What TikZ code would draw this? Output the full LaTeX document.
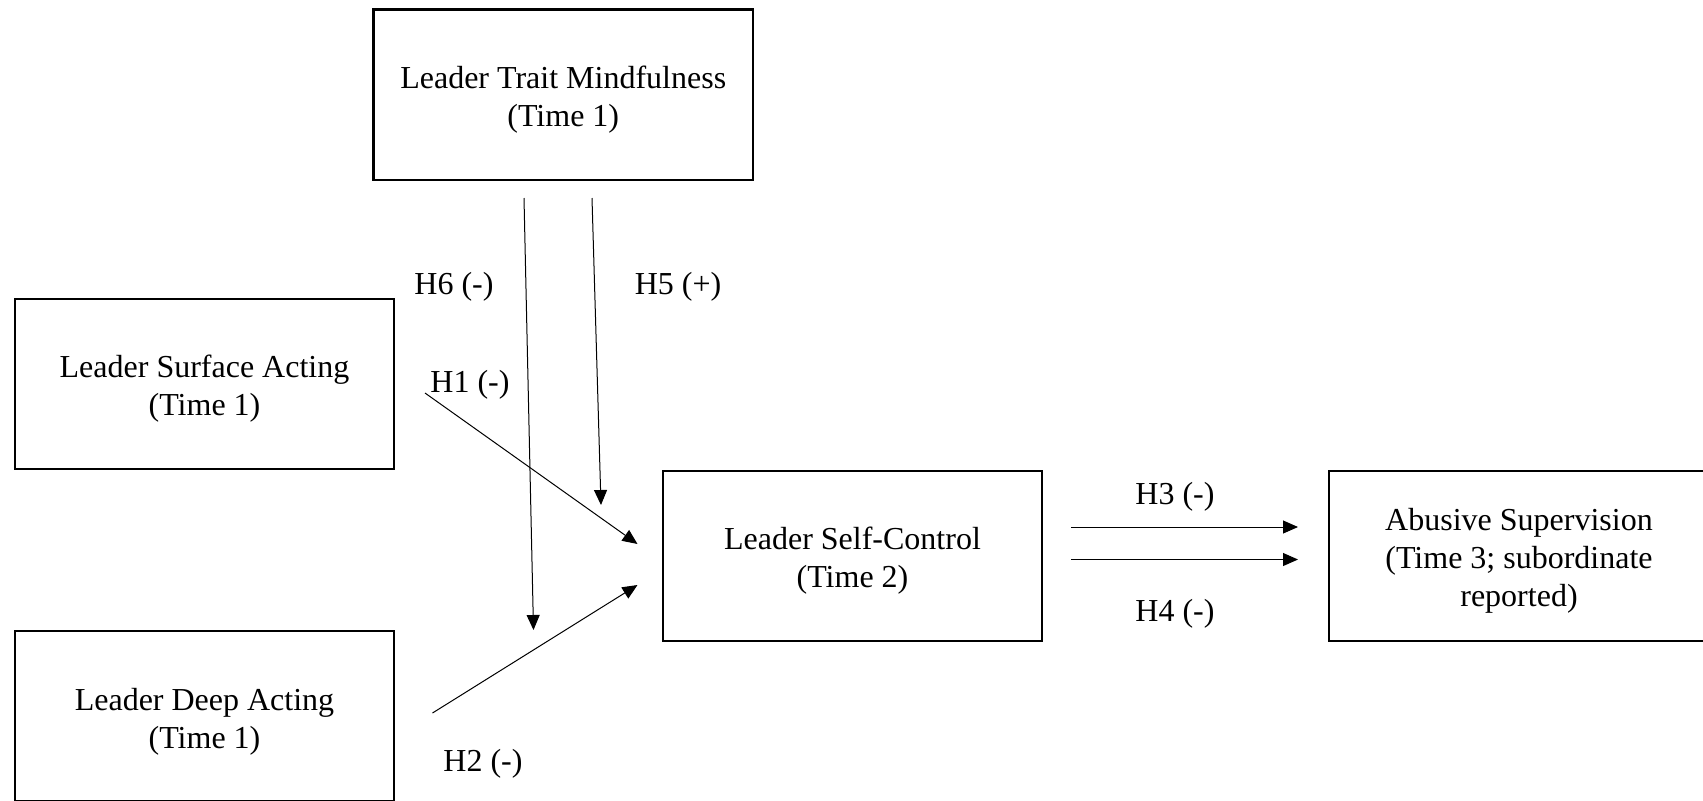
\documentclass[tikz,border=0pt]{standalone}
\usepackage{fontspec}
\setmainfont{Liberation Serif}
\usetikzlibrary{arrows.meta}
\begin{document}
\begin{tikzpicture}[x=0.5pt,y=-0.5pt,
  every node/.style={font=\fontsize{16}{19}\selectfont},
  varbox/.style={draw,line width=1.1pt,minimum width=189.75pt,minimum height=85.25pt,inner sep=0pt},
  boxtext/.style={align=center,inner sep=0pt},
  lbl/.style={inner sep=0pt},
  arr/.style={line width=0.5pt,-{Triangle[length=7.5pt,width=6.5pt]}}]
\useasboundingbox (0,0) rectangle (1703,800);
\node[varbox] (mind) at (563.25,94.75) {};
\node[varbox] (surf) at (204.5,384) {};
\node[varbox] (deep) at (204.5,716) {};
\node[varbox] (self) at (852.5,556) {};
\node[varbox] (abus) at (1519,556) {};
\node[boxtext] (mindt) at ([yshift=-2.5pt]mind.center) {Leader Trait Mindfulness\\(Time 1)};
\node[boxtext] (surft) at ([yshift=-2.5pt]surf.center) {Leader Surface Acting\\(Time 1)};
\node[boxtext] (deept) at ([yshift=-3pt]deep.center) {Leader Deep Acting\\(Time 1)};
\node[boxtext] (selft) at ([yshift=-2.5pt]self.center) {Leader Self-Control\\(Time 2)};
\node[boxtext] (abust) at ([yshift=-2.5pt]abus.center) {Abusive Supervision\\(Time 3; subordinate\\reported)};
\coordinate (h5s) at (592,198);
\coordinate (h5e) at (601,505);
\coordinate (h6s) at (524,198);
\coordinate (h6e) at (533.5,630);
\coordinate (h1s) at (425,393);
\coordinate (h1e) at (637.5,544);
\coordinate (h2s) at (432.5,713);
\coordinate (h2e) at (637.5,585);
\coordinate (h3s) at (1071,527);
\coordinate (h3e) at (1298,527);
\coordinate (h4s) at (1071,559.5);
\coordinate (h4e) at (1298,559.5);
\draw[arr] (h5s) -- (h5e);
\draw[arr] (h6s) -- (h6e);
\draw[arr] (h1s) -- (h1e);
\draw[arr] (h2s) -- (h2e);
\draw[arr] (h3s) -- (h3e);
\draw[arr] (h4s) -- (h4e);
\node[lbl] (l6) at (454,287) {H6 (-)};
\node[lbl] (l5) at (678,287) {H5 (+)};
\node[lbl] (l1) at (470,385) {H1 (-)};
\node[lbl] (l2) at (483,764) {H2 (-)};
\node[lbl] (l3) at (1175,497) {H3 (-)};
\node[lbl] (l4) at (1175,614) {H4 (-)};
\end{tikzpicture}
\end{document}
